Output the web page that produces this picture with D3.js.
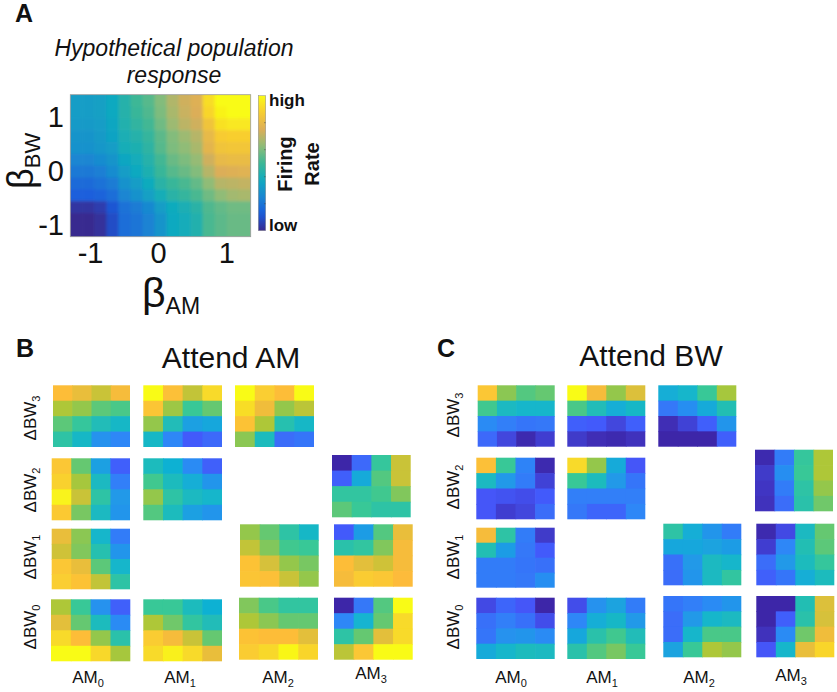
<!DOCTYPE html>
<html><head><meta charset="utf-8">
<script src="https://cdn.jsdelivr.net/npm/d3@7"></script>
<style>html,body{margin:0;background:#fff}svg{display:block}text{font-family:"Liberation Sans",Arial,sans-serif;fill:#111}</style>
</head><body><svg id="c" width="837" height="692"></svg>
<script>
// ---------- data: firing-rate levels (0 = low, 1 = high)
const amLevels = ["AM0","AM1","AM2","AM3"];
const bwLevels = ["BW3","BW2","BW1","BW0"];
const hypothetical = [
 [.33,.33,.34,.37,.44,.50,.54,.61,.68,.73,.76,.92,1,1,1],
 [.33,.33,.34,.37,.44,.49,.53,.60,.67,.72,.75,.90,.98,1,1],
 [.32,.32,.33,.36,.43,.47,.51,.58,.65,.70,.73,.84,.93,.95,.95],
 [.30,.30,.32,.35,.41,.44,.48,.55,.61,.65,.69,.80,.87,.88,.88],
 [.29,.29,.31,.33,.40,.42,.46,.54,.60,.63,.67,.78,.84,.85,.85],
 [.25,.25,.27,.30,.36,.39,.44,.51,.57,.60,.64,.73,.80,.81,.81],
 [.21,.21,.23,.27,.33,.37,.42,.49,.54,.57,.61,.69,.75,.76,.77],
 [.17,.17,.19,.22,.29,.33,.38,.45,.49,.52,.56,.63,.69,.70,.71],
 [.13,.13,.15,.18,.25,.29,.34,.40,.45,.48,.52,.58,.63,.66,.67],
 [.03,.03,.05,.11,.19,.22,.26,.33,.38,.41,.45,.53,.56,.58,.58],
 [.00,.00,.02,.09,.18,.20,.24,.30,.37,.39,.43,.52,.55,.57,.57],
 [.00,.00,.02,.09,.18,.20,.24,.30,.37,.39,.43,.52,.55,.57,.57]
];
const attendAM = {
 "AM0|BW3":[[.76,.72,.67,.74],[.63,.60,.54,.52],[.54,.49,.43,.40],[.47,.40,.28,.25]],
 "AM1|BW3":[[1,.77,.66,.88],[.79,.61,.50,.55],[.60,.43,.32,.34],[.40,.25,.13,.17]],
 "AM2|BW3":[[1,.83,.76,1],[.89,.73,.60,.65],[.78,.63,.45,.40],[.59,.42,.18,.20]],
 "AM0|BW2":[[.80,.55,.32,.14],[.84,.62,.41,.23],[.97,.67,.47,.30],[.81,.57,.41,.29]],
 "AM1|BW2":[[.42,.37,.26,.15],[.51,.42,.36,.29],[.60,.47,.41,.39],[.53,.42,.32,.29]],
 "AM3|BW2":[[0,.17,.49,.67],[.14,.35,.53,.67],[.48,.48,.51,.58],[.54,.50,.47,.47]],
 "AM0|BW1":[[.72,.59,.39,.22],[.68,.58,.45,.29],[.80,.72,.54,.39],[.83,.78,.66,.47]],
 "AM2|BW1":[[.60,.55,.47,.40],[.66,.58,.51,.50],[.78,.69,.60,.57],[.79,.77,.67,.60]],
 "AM3|BW1":[[.13,.31,.53,.72],[.46,.48,.58,.74],[.76,.71,.68,.74],[.74,.82,.80,.75]],
 "AM0|BW0":[[.63,.50,.28,.15],[.71,.55,.42,.26],[.88,.76,.60,.46],[1,1,.87,.62]],
 "AM1|BW0":[[.50,.50,.42,.37],[.63,.56,.48,.43],[.82,.74,.67,.55],[.88,.96,.88,.72]],
 "AM2|BW0":[[.58,.52,.48,.48],[.63,.59,.55,.55],[.78,.76,.76,.71],[.82,.87,.98,.86]],
 "AM3|BW0":[[0,.21,.53,1],[.25,.38,.55,.88],[.47,.55,.71,.88],[.65,.80,1,1]]
};
const attendBW = {
 "AM0|BW3":[[.80,.59,.53,.55],[.51,.41,.39,.39],[.26,.23,.20,.21],[.17,.08,.01,.06]],
 "AM1|BW3":[[1,.74,.60,.70],[.52,.43,.36,.40],[.14,.13,.08,.14],[.05,.02,.01,.03]],
 "AM2|BW3":[[.36,.39,.50,.62],[.21,.27,.35,.44],[.02,.07,.14,.29],[0,0,0,.14]],
 "AM0|BW2":[[.77,.50,.24,.01],[.41,.30,.22,.07],[.12,.11,.10,.13],[.12,.06,.08,.18]],
 "AM1|BW2":[[.88,.60,.35,.12],[.50,.42,.30,.20],[.23,.23,.23,.23],[.21,.16,.16,.25]],
 "AM3|BW2":[[.01,.22,.49,.63],[.05,.27,.50,.63],[.04,.22,.47,.60],[.03,.18,.46,.56]],
 "AM0|BW1":[[.74,.47,.22,.05],[.44,.31,.21,.13],[.22,.22,.20,.19],[.22,.22,.21,.27]],
 "AM2|BW1":[[.47,.36,.29,.22],[.34,.34,.33,.31],[.19,.30,.41,.39],[.18,.29,.41,.48]],
 "AM3|BW1":[[.01,.09,.41,.55],[.06,.25,.44,.54],[.18,.30,.42,.49],[.15,.20,.36,.42]],
 "AM0|BW0":[[.09,.16,.12,0],[.19,.23,.19,.10],[.20,.28,.29,.26],[.35,.39,.42,.41]],
 "AM1|BW0":[[.10,.28,.33,.22],[.25,.36,.40,.30],[.34,.46,.51,.43],[.46,.53,.57,.50]],
 "AM2|BW0":[[.20,.23,.26,.29],[.18,.30,.39,.41],[.18,.39,.52,.52],[.33,.50,.63,.60]],
 "AM3|BW0":[[0,0,.44,.70],[0,.14,.46,.69],[.03,.26,.56,.73],[.12,.39,.72,.86]]
};
const axisTicks = [-1,0,1];

// ---------- layout (kept apart from the data)
const layoutAM = {
 "AM0|BW3":[53,385.3,130,447],"AM1|BW3":[143.3,385.3,222,447],"AM2|BW3":[235,385.3,314,447],
 "AM0|BW2":[51.7,458.3,130,520.3],"AM1|BW2":[143.3,458.3,222,520.3],"AM3|BW2":[332,455,410.7,517.3],
 "AM0|BW1":[51.7,528.7,130,589.3],"AM2|BW1":[240,524.3,318.7,586.7],"AM3|BW1":[334,524.3,412.7,586.7],
 "AM0|BW0":[51,599.3,130.3,661.3],"AM1|BW0":[143.3,599.3,222,661.3],"AM2|BW0":[239,597.7,318,659.7],"AM3|BW0":[334,597.7,412.7,659.7]
};
const layoutBW = {
 "AM0|BW3":[477.7,385.3,554.7,446.7],"AM1|BW3":[567.3,385.3,645.3,446.7],"AM2|BW3":[658.3,385.3,736.3,446.7],
 "AM0|BW2":[476.3,457.7,554.7,519.3],"AM1|BW2":[567.3,457.7,645.3,519.3],"AM3|BW2":[755,449.7,833,511.3],
 "AM0|BW1":[476.3,527.7,554.7,587.7],"AM2|BW1":[663.3,523.7,741.3,585.3],"AM3|BW1":[756.3,523.7,834.3,585.3],
 "AM0|BW0":[476.3,597.7,554.7,659],"AM1|BW0":[567.3,597.7,645.3,659],"AM2|BW0":[663.3,596,741.3,657.3],"AM3|BW0":[756.3,596,834.3,657.3]
};

// ---------- colour scales
const stops = [0,.125,.25,.375,.5,.625,.75,.875,1];
const parula = d3.scaleLinear().domain(stops)
  .range(["#3e26a8","#4458fb","#2d87f7","#10b3d2","#37c897","#abc739","#fdbb3a","#f8d92a","#f9fb15"])
  .clamp(true);
const muted = d3.scaleLinear().domain(stops)
  .range(["#392a8f","#1a5cdc","#1a86d2","#0faabf","#3cb796","#8dbd78","#dcae58","#f8cc30","#f9fb15"])
  .clamp(true);

const svg = d3.select("#c");
const defs = svg.append("defs");
defs.append("filter").attr("id","soft").attr("x","-5%").attr("y","-5%").attr("width","110%").attr("height","110%")
  .append("feGaussianBlur").attr("stdDeviation",0.5);
defs.append("filter").attr("id","softer").attr("x","-10%").attr("y","-10%").attr("width","120%").attr("height","120%")
  .append("feGaussianBlur").attr("stdDeviation",1.7);
const lg = defs.append("linearGradient").attr("id","cb").attr("x1",0).attr("x2",0).attr("y1",1).attr("y2",0);
d3.range(0,1.001,.05).forEach(t=>lg.append("stop").attr("offset",t).attr("stop-color",muted(t)));

function txt(x,y,s,size,opt={}){
  const t=svg.append("text").attr("x",x).attr("y",y).attr("font-size",size).text(s);
  if(opt.weight)t.attr("font-weight",opt.weight);
  if(opt.style)t.attr("font-style",opt.style);
  if(opt.anchor)t.attr("text-anchor",opt.anchor);
  if(opt.rotate!==undefined)t.attr("transform",`rotate(${opt.rotate} ${x} ${y})`);
  return t;
}
function sub(x,y,base,s,size,subSize,opt={}){
  const t=txt(x,y,base,size,opt);
  t.append("tspan").attr("font-size",subSize).attr("dy",subSize*.32).text(s);
  return t;
}

// ---------- panel A
const ax = d3.scaleLinear().domain([-1.29,1.36]).range([70.3,250.7]);
const ay = d3.scaleLinear().domain([-1.22,1.41]).range([236.7,94.7]);
const colsA = d3.scaleBand().domain(d3.range(hypothetical[0].length)).range(ax.range());
const rowsA = d3.scaleBand().domain(d3.range(hypothetical.length)).range([ay.range()[1],ay.range()[0]]);
defs.append("clipPath").attr("id","clipA").append("rect")
  .attr("x",70.3).attr("y",94.7).attr("width",180.4).attr("height",142);
const bleed = 8, lastC = hypothetical[0].length-1, lastR = hypothetical.length-1;
svg.append("g").attr("clip-path","url(#clipA)").append("g").attr("filter","url(#softer)")
 .selectAll("g").data(hypothetical).join("g")
 .attr("transform",(d,i)=>`translate(0,${rowsA(i)-(i===0?bleed:0)})`)
 .each(function(row,ri){
   d3.select(this).selectAll("rect").data(row).join("rect")
    .attr("x",(d,i)=>colsA(i)-(i===0?bleed:0))
    .attr("width",(d,i)=>colsA.bandwidth()+.6+(i===0||i===lastC?bleed:0))
    .attr("height",rowsA.bandwidth()+.6+(ri===0||ri===lastR?bleed:0))
    .attr("fill",d=>muted(d));
 });
svg.append("rect").attr("x",70.3).attr("y",94.7).attr("width",180.4).attr("height",142)
  .attr("fill","none").attr("stroke","#9a9a9a").attr("stroke-width",.8);

const hyphen = d => String(d);
const gx = svg.append("g").attr("transform","translate(0,263)")
  .call(d3.axisBottom(ax).tickValues(axisTicks).tickFormat(hyphen).tickSize(0).tickPadding(0));
gx.select(".domain").remove();
gx.selectAll("text").attr("font-size",29).attr("dy",0).attr("font-family",'"Liberation Sans"').attr("fill","#111");
const gy = svg.append("g").attr("transform","translate(64,0)")
  .call(d3.axisLeft(ay).tickValues(axisTicks).tickFormat(hyphen).tickSize(0).tickPadding(0));
gy.select(".domain").remove();
gy.selectAll("text").attr("font-size",29).attr("dy",".35em").attr("font-family",'"Liberation Sans"').attr("fill","#111");

// colour bar
const cy = d3.scaleLinear().domain([0,1]).range([230.7,95.7]);
svg.append("rect").attr("x",258.3).attr("y",95.7).attr("width",7.4).attr("height",135)
  .attr("fill","url(#cb)").attr("stroke","#8a8a8a").attr("stroke-width",.5);
svg.append("g").selectAll("line").data(d3.range(.2,1,.2)).join("line")
  .attr("x1",264).attr("x2",265.7).attr("y1",d=>cy(d)).attr("y2",d=>cy(d)).attr("stroke","#444").attr("stroke-width",.5);
txt(269,106,"high",17,{weight:"bold"});
txt(269,231,"low",17,{weight:"bold"});
txt(292,164,"Firing",20,{weight:"bold",anchor:"middle",rotate:-90});
txt(319,164,"Rate",20,{weight:"bold",anchor:"middle",rotate:-90});

txt(15,22,"A",25,{weight:"bold"});
txt(174,56,"Hypothetical population",23,{style:"italic",anchor:"middle"});
txt(174,83,"response",23,{style:"italic",anchor:"middle"});
sub(142,307,"β","AM",41,23);
sub(33,189,"β","BW",36,22,{rotate:-90});

// ---------- panels B and C
function heatmaps(data,layout){
  const g = svg.append("g").attr("filter","url(#soft)");
  Object.keys(data).forEach(key=>{
    const [x0,y0,x1,y1]=layout[key];
    const x=d3.scaleBand().domain(d3.range(4)).range([x0,x1]);
    const y=d3.scaleBand().domain(d3.range(4)).range([y0,y1]);
    const p=g.append("g");
    data[key].forEach((row,ri)=>{
      p.selectAll(null).data(row).join("rect")
       .attr("x",(d,i)=>x(i)).attr("y",y(ri))
       .attr("width",(d,i)=>x.bandwidth()+(i<3?.7:0))
       .attr("height",y.bandwidth()+(ri<3?.7:0))
       .attr("fill",d=>parula(d));
    });
  });
}
heatmaps(attendAM,layoutAM);
heatmaps(attendBW,layoutBW);

txt(16,357,"B",25,{weight:"bold"});
txt(437,357,"C",25,{weight:"bold"});
txt(231,368,"Attend AM",30,{anchor:"middle"});
txt(651,366,"Attend BW",30,{anchor:"middle"});

const bwLabelsB=[[36,418],[36,490],[36,557],[36,627]];
const bwLabelsC=[[459,415],[459,487],[459,557],[459,627]];
bwLevels.forEach((b,i)=>{
  sub(bwLabelsB[i][0],bwLabelsB[i][1],"ΔBW",b.slice(2),17,11,{anchor:"middle",rotate:-90});
  sub(bwLabelsC[i][0],bwLabelsC[i][1],"ΔBW",b.slice(2),17,11,{anchor:"middle",rotate:-90});
});
const amLabelsB=[[88,683],[180,683],[278,683],[371,679]];
const amLabelsC=[[511,683],[602,683],[699,683],[791,681]];
amLevels.forEach((a,i)=>{
  sub(amLabelsB[i][0],amLabelsB[i][1],"AM",a.slice(2),17,11,{anchor:"middle"});
  sub(amLabelsC[i][0],amLabelsC[i][1],"AM",a.slice(2),17,11,{anchor:"middle"});
});
</script></body></html>
